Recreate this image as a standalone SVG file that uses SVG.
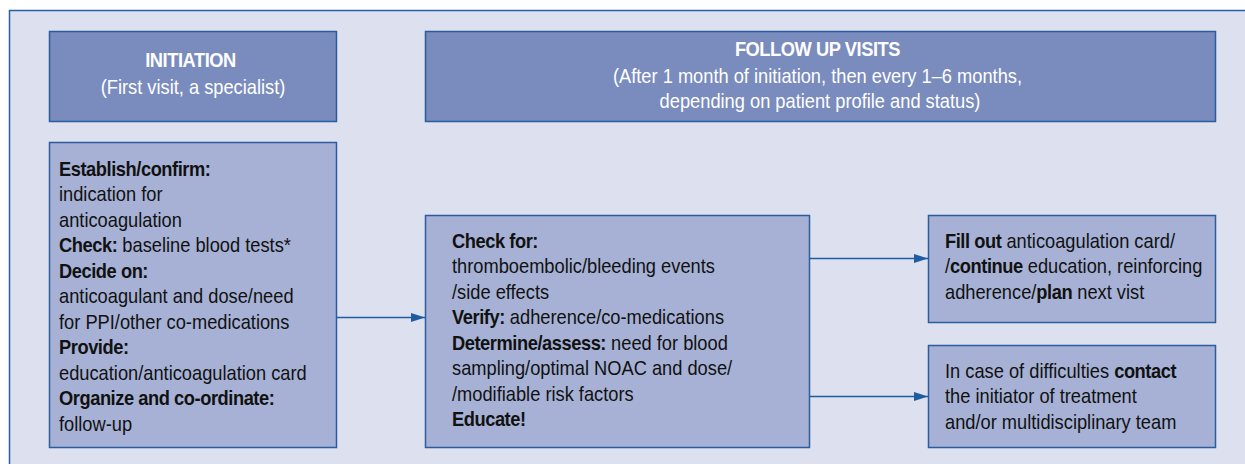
<svg xmlns="http://www.w3.org/2000/svg" width="1245" height="464" viewBox="0 0 1245 464">
  <defs>
    <style>
      .frame { fill: #dde0ee; stroke: #2760a6; stroke-width: 1.5; }
      .head { fill: #7a8bbe; stroke: #2a5c9e; stroke-width: 1.5; }
      .box { fill: #a6b1d5; stroke: #2a5c9e; stroke-width: 1.5; }
      text { font-family: "Liberation Sans", Arial, sans-serif; font-size: 21px; }
      .hd { fill: #ffffff; text-anchor: middle; }
      .bd { fill: #111111; }
      .b { font-weight: bold; letter-spacing: -0.5px; }
      .link { fill: none; stroke: #1f5ba2; stroke-width: 1.5; }
    </style>
    <marker id="arrow" markerUnits="userSpaceOnUse" markerWidth="15" markerHeight="10" refX="14" refY="5" orient="auto">
      <path d="M0,0.5 L14,5 L0,9.5 Z" fill="#1f5ba2"/>
    </marker>
  </defs>

  <!-- outer panel -->
  <rect class="frame" x="9.5" y="10.5" width="1250" height="470"/>

  <!-- header: initiation -->
  <g id="initiation-header">
    <rect class="head" x="49.5" y="31.5" width="287" height="90"/>
    <text class="hd" transform="translate(193 0) scale(0.87 1)">
      <tspan class="b" x="0" y="67">INITIATION</tspan>
      <tspan x="0" y="94">(First visit, a specialist)</tspan>
    </text>
  </g>

  <!-- header: follow up visits -->
  <g id="followup-header">
    <rect class="head" x="425.5" y="31.5" width="790" height="90"/>
    <text class="hd" transform="translate(820 0) scale(0.87 1)">
      <tspan class="b" x="0" y="56">FOLLOW UP VISITS</tspan>
      <tspan x="0" y="83">(After 1 month of initiation, then every 1–6 months,</tspan>
      <tspan x="0" y="108">depending on patient profile and status)</tspan>
    </text>
  </g>

  <!-- initiation tasks -->
  <g id="initiation-tasks">
    <rect class="box" x="49.5" y="142.5" width="287" height="305"/>
    <text class="bd" transform="translate(59 0) scale(0.87 1)">
      <tspan class="b" x="0" y="176">Establish/confirm:</tspan>
      <tspan x="0" y="201.5">indication for</tspan>
      <tspan x="0" y="227">anticoagulation</tspan>
      <tspan x="0" y="252.5"><tspan class="b">Check:</tspan> baseline blood tests*</tspan>
      <tspan class="b" x="0" y="278">Decide on:</tspan>
      <tspan x="0" y="303.5">anticoagulant and dose/need</tspan>
      <tspan x="0" y="329">for PPI/other co-medications</tspan>
      <tspan class="b" x="0" y="354.5">Provide:</tspan>
      <tspan x="0" y="380">education/anticoagulation card</tspan>
      <tspan class="b" x="0" y="405.5">Organize and co-ordinate:</tspan>
      <tspan x="0" y="431">follow-up</tspan>
    </text>
  </g>

  <!-- follow-up tasks -->
  <g id="followup-tasks">
    <rect class="box" x="425.5" y="215.5" width="384" height="232"/>
    <text class="bd" transform="translate(452 0) scale(0.87 1)">
      <tspan class="b" x="0" y="248">Check for:</tspan>
      <tspan x="0" y="273.5">thromboembolic/bleeding events</tspan>
      <tspan x="0" y="299">/side effects</tspan>
      <tspan x="0" y="324.5"><tspan class="b">Verify:</tspan> adherence/co-medications</tspan>
      <tspan x="0" y="350"><tspan class="b">Determine/assess:</tspan> need for blood</tspan>
      <tspan x="0" y="375.5">sampling/optimal NOAC and dose/</tspan>
      <tspan x="0" y="401">/modifiable risk factors</tspan>
      <tspan class="b" x="0" y="426.5">Educate!</tspan>
    </text>
  </g>

  <!-- record and plan -->
  <g id="record-plan">
    <rect class="box" x="928.5" y="215.5" width="287" height="107"/>
    <text class="bd" transform="translate(945 0) scale(0.87 1)">
      <tspan x="0" y="248"><tspan class="b">Fill out</tspan> anticoagulation card/</tspan>
      <tspan x="0" y="273.5">/<tspan class="b">continue</tspan> education, reinforcing</tspan>
      <tspan x="0" y="299">adherence/<tspan class="b">plan</tspan> next vist</tspan>
    </text>
  </g>

  <!-- escalation contact -->
  <g id="contact">
    <rect class="box" x="928.5" y="345.5" width="287" height="102"/>
    <text class="bd" transform="translate(945 0) scale(0.87 1)">
      <tspan x="0" y="378">In case of difficulties <tspan class="b">contact</tspan></tspan>
      <tspan x="0" y="403.5">the initiator of treatment</tspan>
      <tspan x="0" y="429">and/or multidisciplinary team</tspan>
    </text>
  </g>

  <!-- connectors -->
  <g id="connectors">
    <line class="link" x1="337" y1="317.5" x2="425" y2="317.5" marker-end="url(#arrow)"/>
    <line class="link" x1="810" y1="258.5" x2="928" y2="258.5" marker-end="url(#arrow)"/>
    <line class="link" x1="810" y1="396.5" x2="928" y2="396.5" marker-end="url(#arrow)"/>
  </g>
</svg>
